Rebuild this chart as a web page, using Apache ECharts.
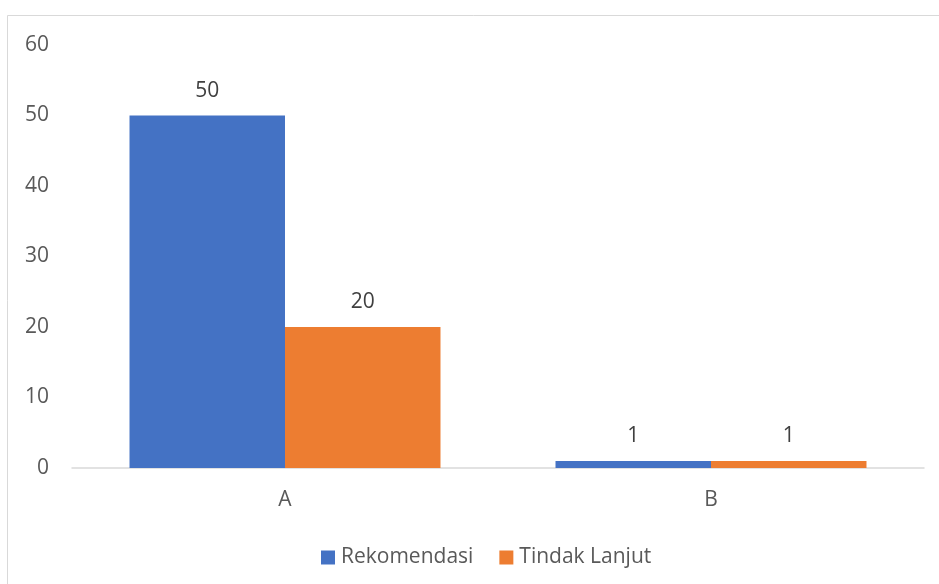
<!DOCTYPE html>
<html>
<head>
<meta charset="utf-8">
<script src="https://cdn.jsdelivr.net/npm/echarts@6/dist/echarts.min.js"></script>
<style>html,body{margin:0;padding:0;background:#fff}#c{width:939px;height:584px}</style>
</head>
<body>
<div id="c"></div>
<script>
const categories = ['A', 'B'];
const rekomendasi = [50, 1];
const tindakLanjut = [20, 1];
const yTicks = { min: 0, max: 60, interval: 10 };

const FONT = '"Open Sans", "Noto Sans", sans-serif';
const chart = echarts.init(document.getElementById('c'), null, { renderer: 'canvas' });
chart.setOption({
  animation: false,
  backgroundColor: '#ffffff',
  graphic: [{
    type: 'rect',
    shape: { x: 7.5, y: 15.5, width: 2000, height: 2000 },
    style: { fill: 'none', stroke: '#d9d9d9', lineWidth: 1 },
    silent: true
  }],
  grid: { left: 72, right: 15, top: 45, bottom: 116, containLabel: false },
  legend: {
    top: 542,
    left: 316,
    itemWidth: 14,
    itemHeight: 14,
    itemGap: 26,
    icon: 'rect',
    textStyle: { color: '#595959', fontSize: 21, fontFamily: FONT, padding: [0, 0, 0, 1] },
    data: ['Rekomendasi', 'Tindak Lanjut']
  },
  xAxis: {
    type: 'category',
    data: categories,
    axisLine: { show: true, lineStyle: { color: '#d9d9d9', width: 1.5 } },
    axisTick: { show: false },
    axisLabel: { color: '#595959', fontSize: 21, fontFamily: FONT, margin: 22 },
    splitLine: { show: false }
  },
  yAxis: {
    type: 'value',
    min: yTicks.min,
    max: yTicks.max,
    interval: yTicks.interval,
    axisLine: { show: false },
    axisTick: { show: false },
    splitLine: { show: false },
    axisLabel: { color: '#595959', fontSize: 21, fontFamily: FONT, margin: 23 }
  },
  series: [
    {
      name: 'Rekomendasi',
      type: 'bar',
      data: rekomendasi,
      barGap: '0%',
      barCategoryGap: '27%',
      itemStyle: { color: '#4472c4' },
      label: { show: true, position: 'top', distance: 14, color: '#404040', fontSize: 21, fontFamily: FONT }
    },
    {
      name: 'Tindak Lanjut',
      type: 'bar',
      data: tindakLanjut,
      barGap: '0%',
      barCategoryGap: '27%',
      itemStyle: { color: '#ed7d31' },
      label: { show: true, position: 'top', distance: 14, color: '#404040', fontSize: 21, fontFamily: FONT }
    }
  ]
});
</script>
</body>
</html>
